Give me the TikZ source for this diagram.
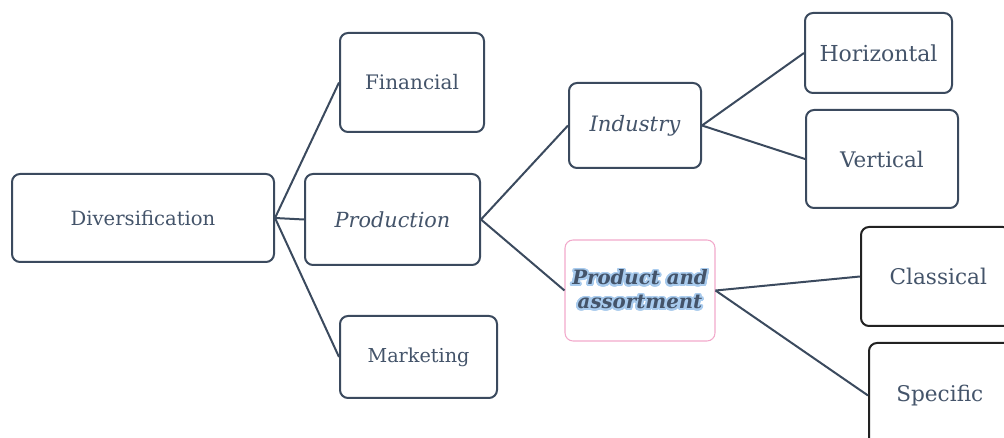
\documentclass[tikz,border=0pt]{standalone}
\usepackage{fontspec}
\setmainfont{DejaVu Serif}
\usepackage{contour}
\contournumber{32}
\contourlength{1.4pt}
\definecolor{txt}{HTML}{44546A}
\definecolor{edge}{HTML}{3B4A5E}
\definecolor{pinkb}{HTML}{F2A9CB}
\definecolor{glow}{HTML}{A8CBEE}
\definecolor{dark}{HTML}{222222}
\tikzset{
  box/.style={draw=edge, line width=1.5pt, rounded corners=6pt, fill=white, text=txt, align=center, inner sep=0pt},
  darkbox/.style={box, draw=dark},
  pinkbox/.style={box, draw=pinkb, line width=0.8pt},
  link/.style={draw=edge, line width=1.5pt},
  fs/.style={font=\fontsize{#1}{#1}\selectfont}
}
\begin{document}
\begin{tikzpicture}[x=0.75pt,y=-0.75pt]
\useasboundingbox (0,0) rectangle (1004,438);
\clip (0,0) rectangle (1004,438);
\node[box, fs=14.7, minimum width=262*0.75pt, minimum height=88*0.75pt] (div) at (143,218) {Diversification};
\node[box, fs=15, minimum width=144*0.75pt, minimum height=99*0.75pt] (fin) at (412,82.5) {Financial};
\node[box, fs=15.6, minimum width=175*0.75pt, minimum height=91*0.75pt] (prod) at (392.5,219.5) {\itshape Production};
\node[box, fs=14.4, minimum width=157*0.75pt, minimum height=82*0.75pt] (mark) at (418.5,357) {Marketing};
\node[box, fs=15.9, minimum width=132*0.75pt, minimum height=85*0.75pt] (ind) at (635,125.5) {\itshape Industry};
\node[pinkbox, font=\fontsize{14.8}{18}\selectfont, minimum width=150*0.75pt, minimum height=101*0.75pt] (pa) at (640,290.5) {\bfseries\itshape \contour{glow}{Product and}\\\bfseries\itshape \contour{glow}{assortment}};
\node[box, fs=16.5, minimum width=147*0.75pt, minimum height=80*0.75pt] (hor) at (878.5,53) {Horizontal};
\node[box, fs=16.1, minimum width=152*0.75pt, minimum height=98*0.75pt] (ver) at (882,159) {Vertical};
\node[darkbox, fs=16.2, minimum width=150*0.75pt, minimum height=99*0.75pt, text width=130*0.75pt, align=left] (cla) at (936,276.5) {\hspace{14pt}Classical};
\node[darkbox, fs=16.2, minimum width=150*0.75pt, minimum height=105*0.75pt, text width=130*0.75pt, align=left] (spe) at (944,395.5) {\hspace{13pt}Specific};
\draw[link] (div.east) -- (fin.west);
\draw[link] (div.east) -- (prod.west);
\draw[link] (div.east) -- (mark.west);
\draw[link] (prod.east) -- (ind.west);
\draw[link] (prod.east) -- (pa.west);
\draw[link] (ind.east) -- (hor.west);
\draw[link] (ind.east) -- (ver.west);
\draw[link] (pa.east) -- (cla.west);
\draw[link] (pa.east) -- (spe.west);
\end{tikzpicture}
\end{document}
